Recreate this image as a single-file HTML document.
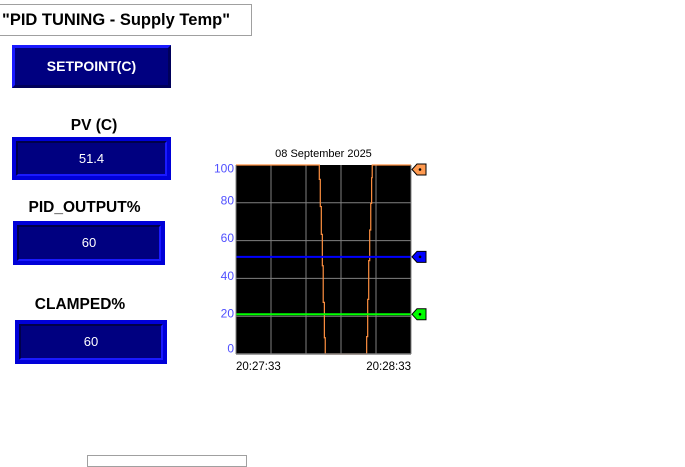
<!DOCTYPE html>
<html><head><meta charset="utf-8"><style>
body{margin:0;width:685px;height:458px;background:#fff;position:relative;overflow:hidden;font-family:"Liberation Sans",Arial,sans-serif}
.abs{position:absolute}
.title{left:-2px;top:4px;width:254px;height:32px;border:1px solid #a0a0a0;box-sizing:border-box;font-weight:bold;font-size:16.5px;line-height:30px;padding-left:3px;text-align:left;color:#000;white-space:nowrap}
.btn{background:#000080;border:3px solid;border-color:#1a1aff #00005a #00005a #1a1aff;box-sizing:border-box;color:#fff;font-weight:bold;font-size:14px;text-align:center}
.disp{background:#0000d8;box-sizing:border-box;padding:4px}
.disp div{width:100%;height:100%;box-sizing:border-box;background:#000080;border:2px solid;border-color:#00004a #1a1aff #1a1aff #00004a;color:#fff;font-size:13px;text-align:center}
.lbl{font-weight:bold;font-size:15.5px;text-align:center;color:#000;white-space:nowrap}
</style></head><body>
<div class="abs title">"PID TUNING - Supply Temp"</div>
<div class="abs btn" style="left:12px;top:45px;width:159px;height:43px;line-height:37px">SETPOINT(C)</div>
<div class="abs lbl" style="left:12px;top:117px;width:164px">PV (C)</div>
<div class="abs disp" style="left:12px;top:137px;width:159px;height:43px"><div style="line-height:31px">51.4</div></div>
<div class="abs lbl" style="left:13px;top:199px;width:143px">PID_OUTPUT%</div>
<div class="abs disp" style="left:13px;top:221px;width:152px;height:44px"><div style="line-height:32px">60</div></div>
<div class="abs lbl" style="left:15px;top:296px;width:130px">CLAMPED%</div>
<div class="abs disp" style="left:15px;top:320px;width:152px;height:44px"><div style="line-height:32px">60</div></div>
<div class="abs" style="left:87px;top:455px;width:158px;height:10px;border:1px solid #a0a0a0"></div>
<svg class="abs" style="left:0;top:0" width="685" height="458" id="chart"></svg>
<script>
const yTicks=[0,20,40,60,80,100];
const xTickLabels=["20:27:33","20:28:33"];
const times=[0,28.56,28.9,29.25,29.6,29.9,30.3,30.6,44.8,45.15,45.5,45.84,46.2,46.5,46.7,60];
const outputValues=[100,92.4,78,63.3,46.7,27.3,8.6,0,9.2,28.9,49.4,65.6,79.7,93.3,100,100];
const pvValue=[51.4];
const setpointValue=[21];
const NS="http://www.w3.org/2000/svg";
const svg=document.getElementById('chart');
const L=236,R=411,T=165,B=354;
const xs=t=>L+t/60*(R-L);
const ys=v=>B-v/100*(B-T);
function mk(tag,attrs,parent){const e=document.createElementNS(NS,tag);for(const k in attrs)e.setAttribute(k,attrs[k]);(parent||svg).appendChild(e);return e;}
const bg=mk('rect',{x:L,y:T,width:R-L,height:B-T,fill:'#000'});


yTicks.forEach(v=>{
 if(v>0&&v<100){const g=mk('line',{x1:L,x2:R,y1:ys(v),y2:ys(v),stroke:'#808080','stroke-width':1});
 
 }
 const cy=Math.min(Math.max(ys(v)-3,T+3),B-6);
 const t=mk('text',{x:L-2,y:cy+4.5,'text-anchor':'end','font-size':12,fill:'#5050ff','font-family':'Liberation Sans'});
 t.textContent=v;
 
 
});
for(let i=1;i<5;i++){const g=mk('line',{x1:L+i*(R-L)/5,x2:L+i*(R-L)/5,y1:T,y2:B,stroke:'#808080','stroke-width':1});
 
 }
let pts=[[xs(times[0]),ys(outputValues[0])]];
for(let i=1;i<times.length;i++){pts.push([xs(times[i]),ys(outputValues[i-1])]);pts.push([xs(times[i]),ys(outputValues[i])]);}
const ol=mk('polyline',{points:pts.map(p=>p.join(',')).join(' '),fill:'none',stroke:'#ff9040','stroke-width':1.2});


const pl=mk('line',{x1:L,x2:R,y1:ys(pvValue[0]),y2:ys(pvValue[0]),stroke:'#0000ff','stroke-width':2});


const sl=mk('line',{x1:L,x2:R,y1:ys(setpointValue[0]),y2:ys(setpointValue[0]),stroke:'#00ff00','stroke-width':2});


mk('line',{x1:L,x2:R,y1:B,y2:B,stroke:'#808080','stroke-width':1.5});
mk('line',{x1:L,x2:L,y1:T,y2:B,stroke:'#808080','stroke-width':1});
mk('line',{x1:R,x2:R,y1:T,y2:B,stroke:'#808080','stroke-width':1});
[[outputValues[outputValues.length-1],'#ff9a50','output-marker'],[pvValue[0],'#0000ff','pv-marker'],[setpointValue[0],'#00ff00','setpoint-marker']].forEach(([v,c,n])=>{
 const y=ys(v)+(v>=100?4.5:0);
 const m=mk('polygon',{points:`${R+1},${y} ${R+6},${y-5.5} ${R+15},${y-5.5} ${R+15},${y+5.5} ${R+6},${y+5.5}`,fill:c,stroke:'#000','stroke-width':1});
 
 
 mk('circle',{cx:R+9,cy:y,r:1.3,fill:'#000'});
});
const tt=mk('text',{x:(L+R)/2,y:157,'text-anchor':'middle','font-size':11,fill:'#000','font-family':'Liberation Sans'});
tt.textContent='08 September 2025';


xTickLabels.forEach((s,i)=>{const t=mk('text',{x:i?R:L,y:370,'text-anchor':i?'end':'start','font-size':11.5,fill:'#000','font-family':'Liberation Sans'});
 t.textContent=s;
 
 });
</script>
</body></html>
